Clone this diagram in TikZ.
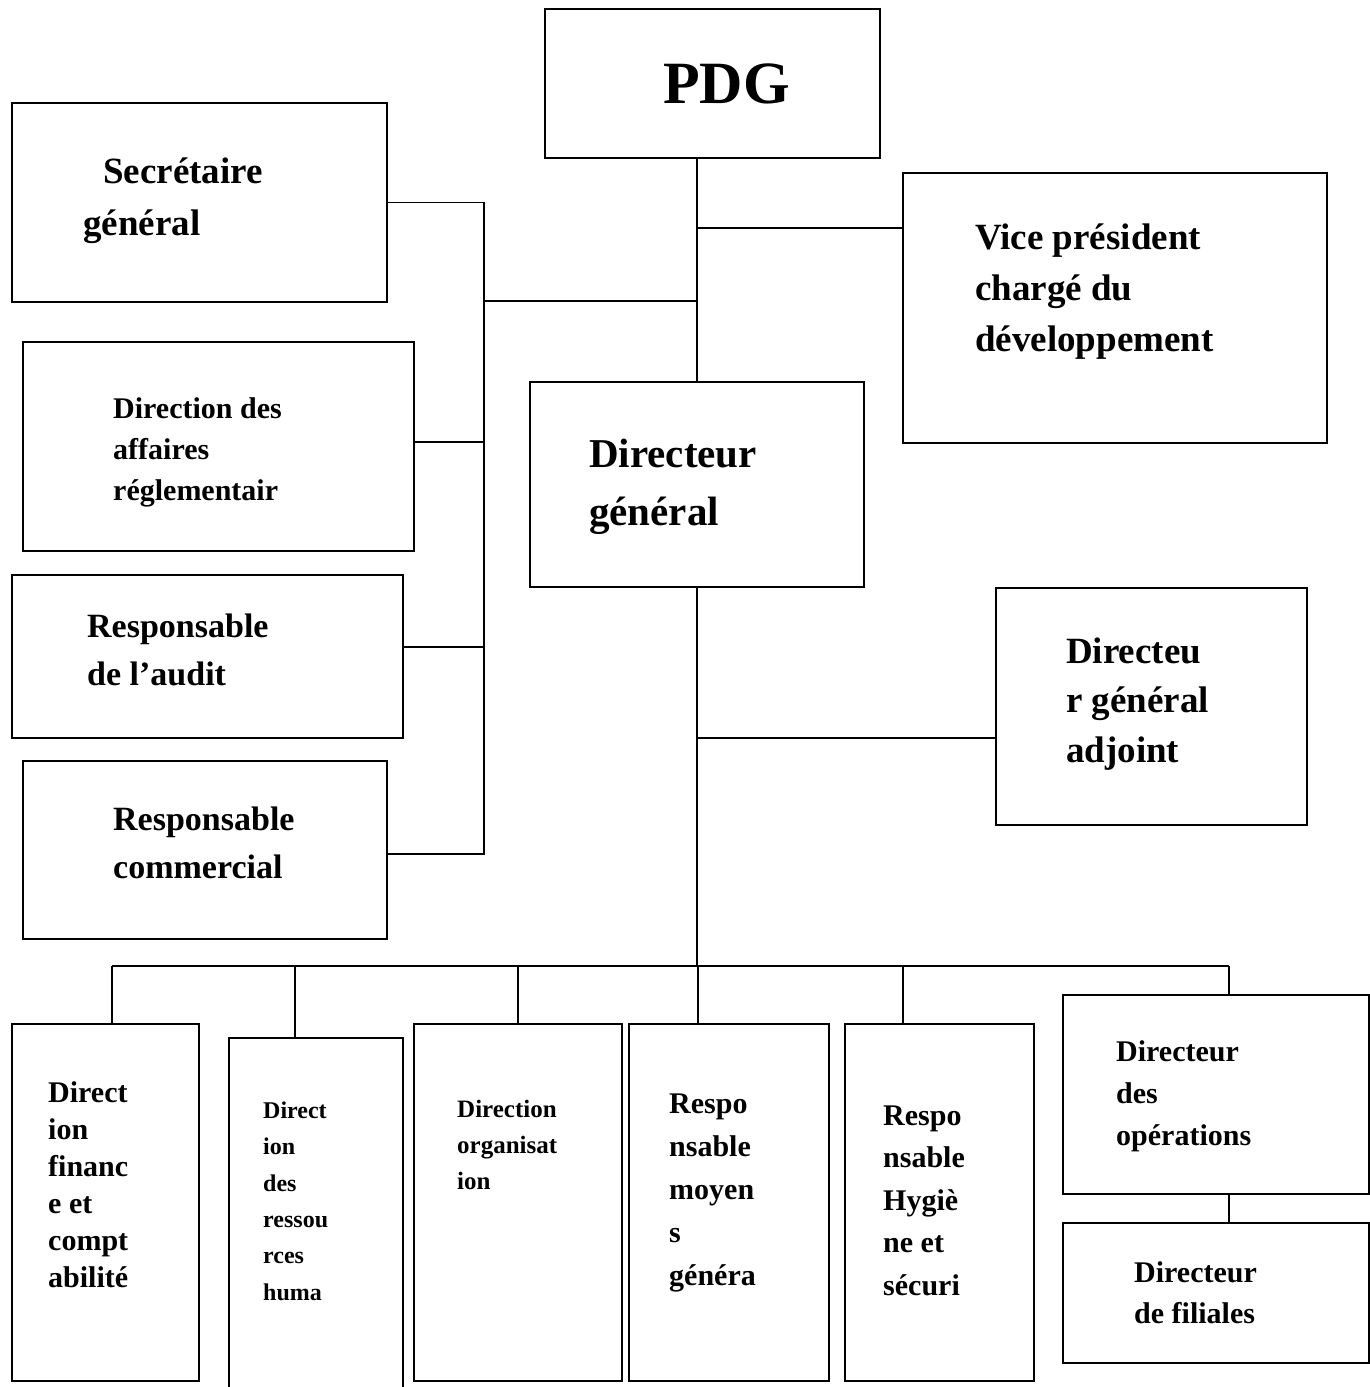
\documentclass[tikz,border=0pt]{standalone}
\usepackage{fontspec}
\setmainfont{Liberation Serif}
\newcommand{\fs}[2]{\fontsize{#1}{#2}\selectfont\bfseries}
\newcommand{\hd}{\rule{0pt}{1em}}
\begin{document}
\begin{tikzpicture}[
        x=1pt, y=-1pt,
        box/.style={draw, rectangle, line width=2pt, inner sep=0pt, anchor=north west},
        link/.style={line width=1.8pt},
        txt/.style={anchor=north west, inner sep=0pt, align=left},
    ]
        \useasboundingbox (0,0) rectangle (1370,1387);
        \clip (0,0) rectangle (1370,1387);

        \node[box, minimum width=335pt, minimum height=149pt] (pdg) at (544,8) {};
        \node[box, minimum width=375pt, minimum height=199pt] (sg) at (11,102) {};
        \node[box, minimum width=424pt, minimum height=270pt] (vp) at (902,172) {};
        \node[box, minimum width=391pt, minimum height=209pt] (ar) at (22,341) {};
        \node[box, minimum width=334pt, minimum height=205pt] (dg) at (529,381) {};
        \node[box, minimum width=391pt, minimum height=163pt] (au) at (11,574) {};
        \node[box, minimum width=311pt, minimum height=237pt] (dga) at (995,587) {};
        \node[box, minimum width=364pt, minimum height=178pt] (cm) at (22,760) {};
        \node[box, minimum width=187pt, minimum height=357pt] (fin) at (11,1023) {};
        \node[box, minimum width=174pt, minimum height=380pt] (rh) at (228,1037) {};
        \node[box, minimum width=208pt, minimum height=357pt] (org) at (413,1023) {};
        \node[box, minimum width=200pt, minimum height=357pt] (mg) at (628,1023) {};
        \node[box, minimum width=189pt, minimum height=357pt] (hs) at (844,1023) {};
        \node[box, minimum width=306pt, minimum height=199pt] (op) at (1062,994) {};
        \node[box, minimum width=306pt, minimum height=140pt] (fil) at (1062,1222) {};

        \node[txt, font=\fs{60}{72}] (pdg-t) at (663,43) {\hd PDG};
        \node[txt, font=\fs{37}{52}] (sg-t) at (83,146) {\hd\hspace*{20pt}Secrétaire\\général};
        \node[txt, font=\fs{37}{51}] (vp-t) at (975,212) {\hd Vice président\\chargé du\\développement};
        \node[txt, font=\fs{30}{41}] (ar-t) at (113,388) {\hd Direction des\\affaires\\réglementair};
        \node[txt, font=\fs{41}{58}] (dg-t) at (589,426) {\hd Directeur\\général};
        \node[txt, font=\fs{34}{48}] (au-t) at (87,603) {\hd Responsable\\de l’audit};
        \node[txt, font=\fs{37}{49.5}] (dga-t) at (1066,626) {\hd Directeu\\r général\\adjoint};
        \node[txt, font=\fs{34}{48}] (cm-t) at (113,796) {\hd Responsable\\commercial};
        \node[txt, font=\fs{30}{37}] (fin-t) at (48,1072) {\hd Direct\\ion\\financ\\e et\\compt\\abilité};
        \node[txt, font=\fs{24}{36.4}] (rh-t) at (263,1094) {\hd Direct\\ion\\des\\ressou\\rces\\huma};
        \node[txt, font=\fs{25}{36}] (org-t) at (457,1092) {\hd Direction\\organisat\\ion};
        \node[txt, font=\fs{30}{43}] (mg-t) at (669,1083) {\hd Respo\\nsable\\moyen\\s\\généra};
        \node[txt, font=\fs{30}{42.5}] (hs-t) at (883,1095) {\hd Respo\\nsable\\Hygiè\\ne et\\sécuri};
        \node[txt, font=\fs{30}{42}] (op-t) at (1116,1031) {\hd Directeur\\des\\opérations};
        \node[txt, font=\fs{30}{41}] (fil-t) at (1134,1252) {\hd Directeur\\de filiales};

        % upper part
        \coordinate (vpj) at (0,228);
        \coordinate (sgj) at (0,301);
        \coordinate (busl) at (484,301);
        \coordinate (busb) at (0,966);
        \draw[link] (pdg.south -| dg.north) -- (dg.north);
        \draw[link] (dg.north |- vpj) -- (vpj -| vp.west);
        \draw[link] (dg.north |- sgj) -- (busl);
        \draw[link] (sg.east) -| ([yshift=-4pt]cm.east -| busl) -- ([yshift=-4pt]cm.east);
        \draw[link] ([yshift=4.5pt]ar.east) -- ([yshift=4.5pt]ar.east -| busl);
        \draw[link] ([yshift=9.5pt]au.east) -- ([yshift=9.5pt]au.east -| busl);

        % lower part
        \draw[link] (dg.south) -- (dg.south |- busb);
        \draw[link] ([yshift=-31.5pt]dga.west) -- ([yshift=-31.5pt]dga.west -| dg.south);
        \draw[link] ([xshift=6.5pt]fin.north |- busb) -- ([xshift=13pt]op.north |- busb);
        \foreach \b/\dx in {fin/6.5, rh/-21, org/0, mg/-31, hs/-36.5, op/13}
            \draw[link] ([xshift=\dx pt]\b.north) -- ([xshift=\dx pt]\b.north |- busb);
        \draw[link] ([xshift=13pt]op.south) -- ([xshift=13pt]fil.north);
    \end{tikzpicture}
\end{document}
